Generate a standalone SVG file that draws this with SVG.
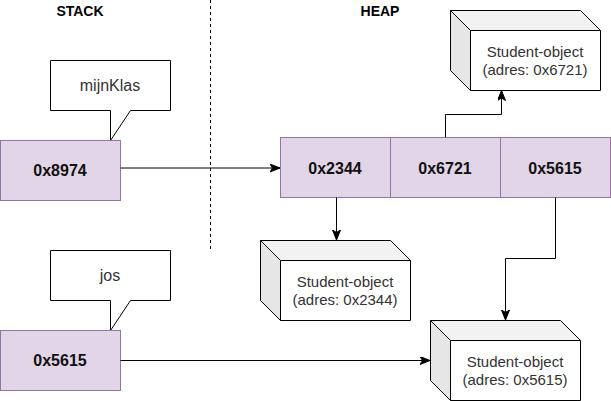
<svg xmlns="http://www.w3.org/2000/svg" width="611" height="401" viewBox="0 0 611 401">
<style>
text{font-family:"Liberation Sans",Arial,Helvetica,sans-serif;text-anchor:middle}
.hdr{font-size:14px;font-weight:bold;fill:#000}
.hex{font-size:16px;font-weight:bold;fill:#111}
.lbl{font-size:16px;fill:#333}
.obj{font-size:15px;fill:#333}
.cell{fill:#e1d5e7;stroke:#9673a6;stroke-width:1}
.call{fill:#fff;stroke:#000;stroke-width:1}
.top{fill:#f2f2f2;stroke:none}
.side{fill:#e6e6e6;stroke:none}
.front{fill:#fff;stroke:none}
.edge{fill:none;stroke:#000;stroke-width:1}
.conn{fill:none;stroke:#000;stroke-width:1;marker-end:url(#arr)}
</style>
<defs>
<marker id="arr" markerUnits="userSpaceOnUse" markerWidth="12" markerHeight="10" refX="10" refY="4" orient="auto">
<path d="M0,0 L10,4 L0,8 L2.5,4 Z" fill="#000" stroke="#000" stroke-width="1"/>
</marker>
</defs>
<text class="hdr" x="80" y="16">STACK</text>
<text class="hdr" x="380" y="16">HEAP</text>
<line x1="210.5" y1="0" x2="210.5" y2="250" stroke="#000" stroke-width="1" stroke-dasharray="3 3"/>
<g id="callout-mijnKlas">
<path class="call" d="M50.5,60.5 H170.5 V110.5 H130.5 L110.5,140.5 V110.5 H50.5 Z"/>
<text class="lbl" x="110" y="91">mijnKlas</text>
</g>
<g id="callout-jos">
<path class="call" d="M50.5,250.5 H170.5 V300.5 H130.5 L110.5,330.5 V300.5 H50.5 Z"/>
<text class="lbl" x="110" y="281">jos</text>
</g>
<g id="stack-0x8974">
<rect class="cell" x="0.5" y="140.5" width="120" height="60"/>
<text class="hex" x="60" y="176">0x8974</text>
</g>
<g id="stack-0x5615">
<rect class="cell" x="0.5" y="330.5" width="120" height="60"/>
<text class="hex" x="60" y="366">0x5615</text>
</g>
<g id="heap-0x2344">
<rect class="cell" x="280.5" y="137.5" width="110" height="60"/>
<text class="hex" x="335" y="174">0x2344</text>
</g>
<g id="heap-0x6721">
<rect class="cell" x="390.5" y="137.5" width="110" height="60"/>
<text class="hex" x="445" y="174">0x6721</text>
</g>
<g id="heap-0x5615">
<rect class="cell" x="500.5" y="137.5" width="110" height="60"/>
<text class="hex" x="555" y="174">0x5615</text>
</g>
<g id="obj-0x6721">
<path class="top" d="M450.5,10.5 H580.5 L600.5,30.5 H470.5 Z"/>
<path class="side" d="M450.5,10.5 L470.5,30.5 V90.5 L450.5,70.5 Z"/>
<path class="edge" d="M450.5,10.5 H580.5 L600.5,30.5 V90.5 H470.5 L450.5,70.5 Z M450.5,10.5 L470.5,30.5 H600.5 M470.5,30.5 V90.5"/>
<text class="obj" x="535" y="57">Student-object</text>
<text class="obj" x="535" y="75">(adres: 0x6721)</text>
</g>
<g id="obj-0x2344">
<path class="top" d="M260.5,240.5 H390.5 L410.5,260.5 H280.5 Z"/>
<path class="side" d="M260.5,240.5 L280.5,260.5 V320.5 L260.5,300.5 Z"/>
<path class="edge" d="M260.5,240.5 H390.5 L410.5,260.5 V320.5 H280.5 L260.5,300.5 Z M260.5,240.5 L280.5,260.5 H410.5 M280.5,260.5 V320.5"/>
<text class="obj" x="345" y="287">Student-object</text>
<text class="obj" x="345" y="305">(adres: 0x2344)</text>
</g>
<g id="obj-0x5615">
<path class="top" d="M430.5,320.5 H560.5 L580.5,340.5 H450.5 Z"/>
<path class="side" d="M430.5,320.5 L450.5,340.5 V400.5 L430.5,380.5 Z"/>
<path class="edge" d="M430.5,320.5 H560.5 L580.5,340.5 V400.5 H450.5 L430.5,380.5 Z M430.5,320.5 L450.5,340.5 H580.5 M450.5,340.5 V400.5"/>
<text class="obj" x="515" y="367">Student-object</text>
<text class="obj" x="515" y="385">(adres: 0x5615)</text>
</g>
<g id="connectors">
<path class="conn" d="M120.5,168 H280"/>
<path class="conn" d="M120.5,360.5 H430"/>
<path class="conn" d="M336.5,197.5 V240"/>
<path class="conn" d="M445.5,137.5 V114.5 H501.5 V90.5"/>
<path class="conn" d="M555.5,197.5 V258.5 H505.5 V320"/>
</g>
</svg>
